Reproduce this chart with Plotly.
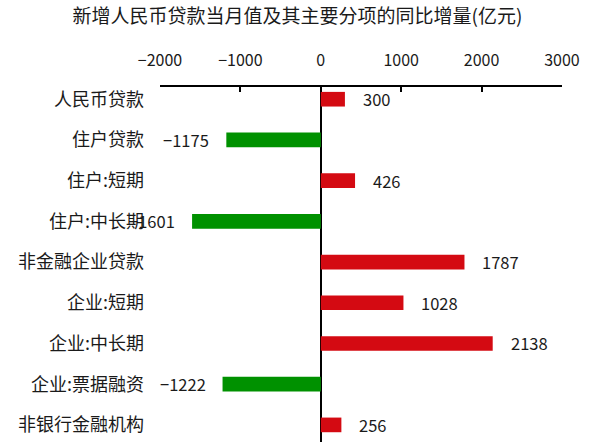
import plotly.graph_objects as go

categories = ["人民币贷款", "住户贷款", "住户:短期", "住户:中长期", "非金融企业贷款",
              "企业:短期", "企业:中长期", "企业:票据融资", "非银行金融机构"]
values = [300, -1175, 426, -1601, 1787, 1028, 2138, -1222, 256]
tick_vals = [-2000, -1000, 0, 1000, 2000, 3000]
title_text = "新增人民币贷款当月值及其主要分项的同比增量(亿元)"

RED = "#d40a12"
GREEN = "#009100"
FONT = "Noto Sans CJK SC"

colors = [RED if v >= 0 else GREEN for v in values]

fig = go.Figure(go.Bar(
    x=values, y=categories, orientation="h",
    marker=dict(color=colors, line=dict(width=0)),
    width=0.36,
))

for c, v in zip(categories, values):
    fig.add_annotation(
        x=v, y=c, text=str(v).replace("-", "\u2212"), showarrow=False,
        xanchor="left" if v >= 0 else "right",
        xshift=16 if v >= 0 else -15,
        font=dict(family=FONT, size=16.5, color="#1a1a1a"),
    )

fig.update_layout(
    width=595, height=442,
    margin=dict(l=160, r=33, t=87, b=0),
    paper_bgcolor="white", plot_bgcolor="white",
    showlegend=False,
    font=dict(family=FONT, color="#1a1a1a"),
    title=dict(text=title_text, x=0.5, xanchor="center", y=0.962, yanchor="middle",
               font=dict(family=FONT, size=19, color="#1a1a1a")),
    xaxis=dict(
        side="top", range=[-2000, 3000], tickvals=tick_vals,
        showgrid=False, showline=True, linecolor="black", linewidth=1.5,
        ticks="inside", ticklen=5, tickcolor="black", tickwidth=1.5,
        ticklabelstandoff=13,
        zeroline=True, zerolinecolor="black", zerolinewidth=2,
        tickfont=dict(family=FONT, size=16, color="#1a1a1a"),
    ),
    yaxis=dict(
        categoryorder="array", categoryarray=categories,
        range=[8.42, -0.3], showgrid=False, showline=False, ticks="",
        ticklabelstandoff=15,
        tickfont=dict(family=FONT, size=18, color="#1a1a1a"),
    ),
)

fig.write_html("out.html")
